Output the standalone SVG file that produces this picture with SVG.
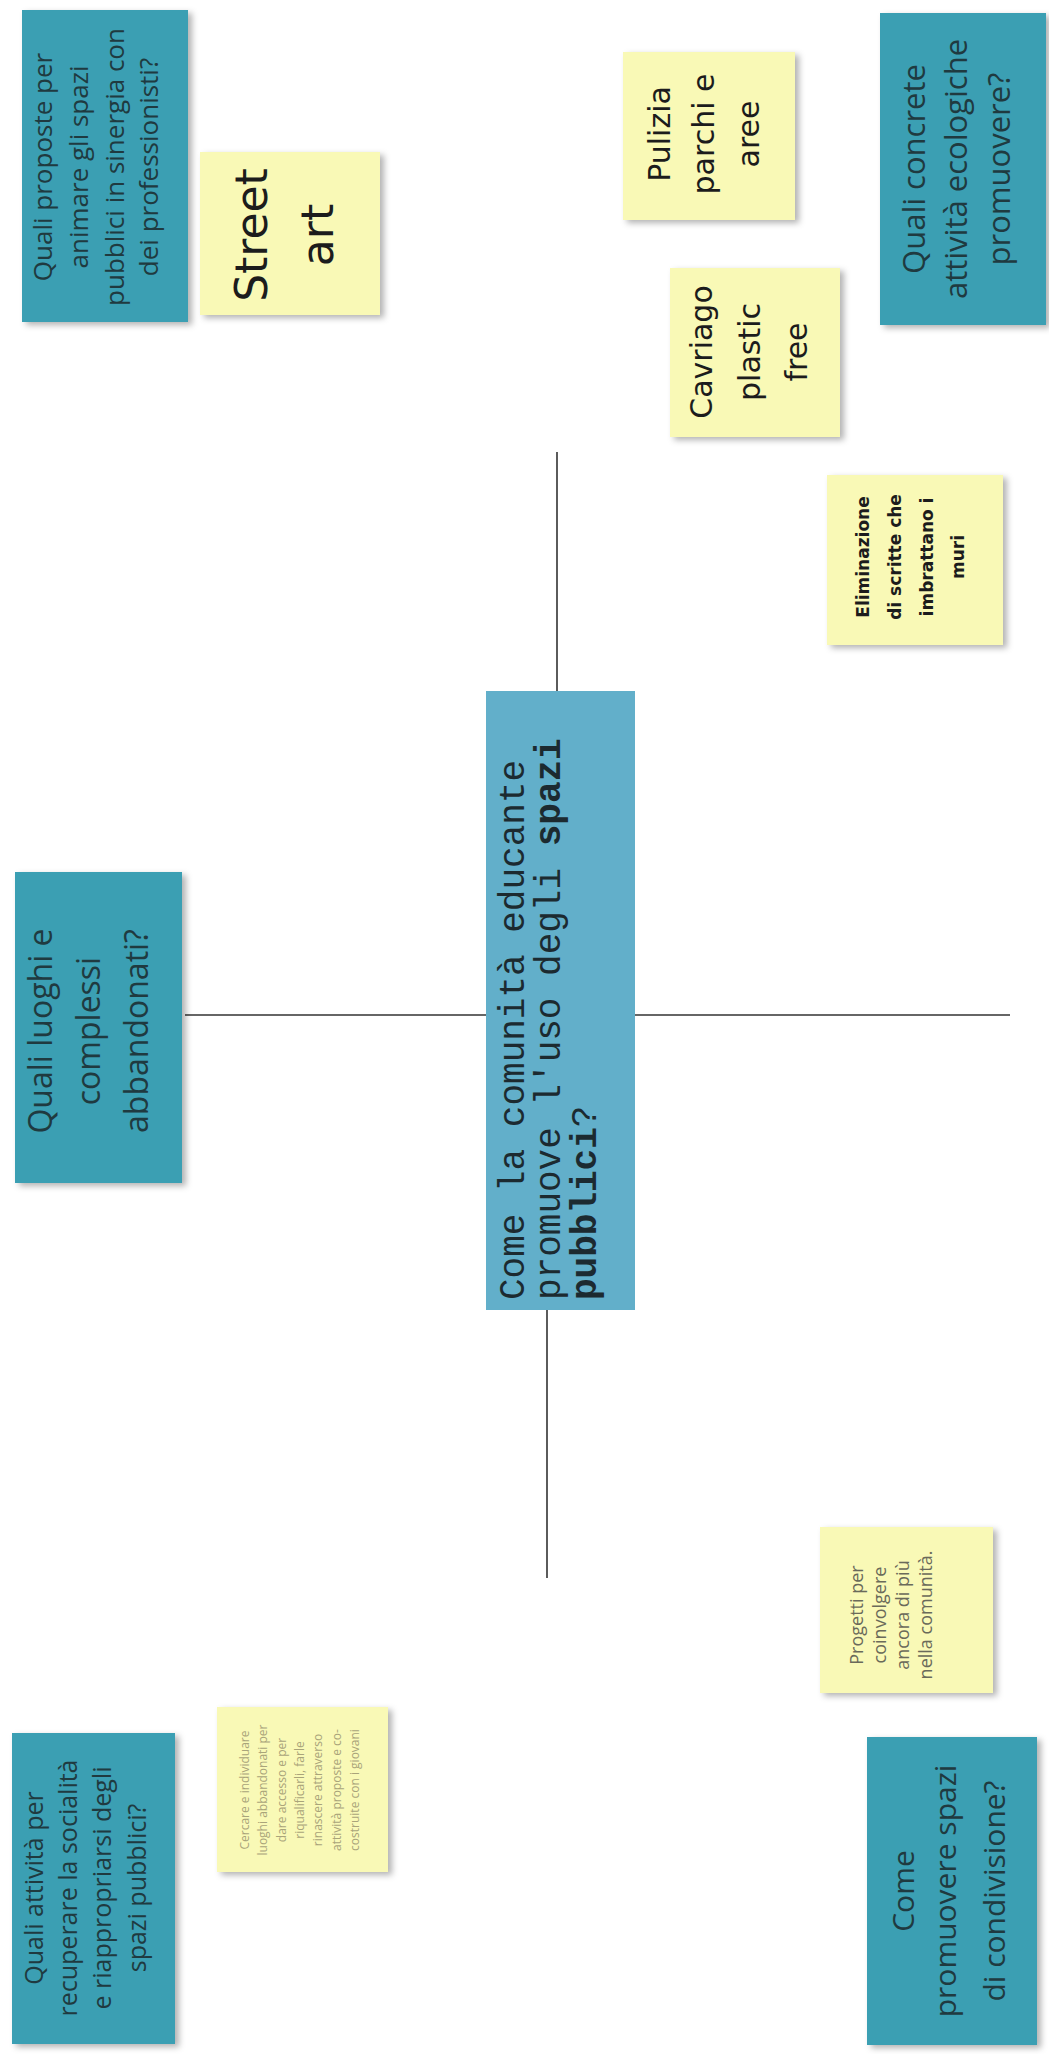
<svg xmlns="http://www.w3.org/2000/svg" width="1049" height="2054" viewBox="0 0 1049 2054">
<defs>
<filter id="sh" x="-10%" y="-10%" width="130%" height="130%"><feDropShadow dx="4" dy="3" stdDeviation="3" flood-color="#000" flood-opacity="0.3"/></filter>
<style>
.teal{fill:#3b9fb3;filter:url(#sh)}
.center{fill:#62afca}
.yel{fill:#f9f9b6;filter:url(#sh)}
.tq{font-family:"Open Sans","Liberation Sans",sans-serif;fill:#1f3a40;text-anchor:middle}
.ty{font-family:"DejaVu Sans","Liberation Sans",sans-serif;fill:#1c1c1c;text-anchor:middle}
.tm{font-family:"Liberation Mono","DejaVu Sans Mono",monospace;font-size:36px;fill:#1c2a30}
.ln{stroke:#333;stroke-width:1.6;fill:none}
</style>
</defs>
<rect width="1049" height="2054" fill="#ffffff"/>
<g id="connectors">
<line class="ln" x1="185" y1="1015" x2="486" y2="1015"/>
<line class="ln" x1="635" y1="1015" x2="1010" y2="1015"/>
<line class="ln" x1="557" y1="452" x2="557" y2="691"/>
<line class="ln" x1="547" y1="1310" x2="547" y2="1578"/>
</g>
<g id="n-proposte">
<rect class="teal" x="22" y="10" width="166" height="312"/>
<g transform="translate(105,167) rotate(-90)"><text class="tq" font-size="26"><tspan x="0" y="-53">Quali proposte per</tspan><tspan x="0" y="-17">animare gli spazi</tspan><tspan x="0" y="19">pubblici in sinergia con</tspan><tspan x="0" y="53">dei professionisti?</tspan></text></g>
</g>
<g id="n-street">
<rect class="yel" x="200" y="152" width="180" height="163"/>
<g transform="translate(290,235) rotate(-90)"><text class="ty" font-size="44"><tspan x="0" y="-23">Street</tspan><tspan x="0" y="43">art</tspan></text></g>
</g>
<g id="n-pulizia">
<rect class="yel" x="623" y="52" width="172" height="168"/>
<g transform="translate(709,134) rotate(-90)"><text class="ty" font-size="30"><tspan x="0" y="-39">Pulizia</tspan><tspan x="0" y="5">parchi e</tspan><tspan x="0" y="50">aree</tspan></text></g>
</g>
<g id="n-cavriago">
<rect class="yel" x="670" y="268" width="170" height="169"/>
<g transform="translate(755,352) rotate(-90)"><text class="ty" font-size="30"><tspan x="0" y="-43">Cavriago</tspan><tspan x="0" y="5">plastic</tspan><tspan x="0" y="52">free</tspan></text></g>
</g>
<g id="n-ecologiche">
<rect class="teal" x="880" y="13" width="166" height="312"/>
<g transform="translate(964,169) rotate(-90)"><text class="tq" font-size="31"><tspan x="0" y="-39">Quali concrete</tspan><tspan x="0" y="3">attività ecologiche</tspan><tspan x="0" y="46">promuovere?</tspan></text></g>
</g>
<g id="n-eliminazione">
<rect class="yel" x="827" y="475" width="176" height="170"/>
<g transform="translate(915,557) rotate(-90)"><text class="ty" font-size="17" font-weight="bold"><tspan x="0" y="-46">Eliminazione</tspan><tspan x="0" y="-14">di scritte che</tspan><tspan x="0" y="18">imbrattano i</tspan><tspan x="0" y="49">muri</tspan></text></g>
</g>
<g id="n-luoghi">
<rect class="teal" x="15" y="872" width="167" height="311"/>
<g transform="translate(98,1031) rotate(-90)"><text class="tq" font-size="32"><tspan x="0" y="-46">Quali luoghi e</tspan><tspan x="0" y="2">complessi</tspan><tspan x="0" y="50">abbandonati?</tspan></text></g>
</g>
<g id="n-centro">
<rect class="center" x="486" y="691" width="149" height="619"/>
<text class="tm" transform="translate(524,1300) rotate(-90)">Come la comunità educante</text>
<text class="tm" transform="translate(560,1300) rotate(-90)">promuove l'uso degli <tspan font-weight="bold">spazi</tspan></text>
<text class="tm" transform="translate(596,1300) rotate(-90)"><tspan font-weight="bold">pubblici</tspan>?</text>
</g>
<g id="n-socialita">
<rect class="teal" x="12" y="1733" width="163" height="311"/>
<g transform="translate(93,1888) rotate(-90)"><text class="tq" font-size="25"><tspan x="0" y="-50">Quali attività per</tspan><tspan x="0" y="-16">recuperare la socialità</tspan><tspan x="0" y="18">e riappropriarsi degli</tspan><tspan x="0" y="53">spazi pubblici?</tspan></text></g>
</g>
<g id="n-cercare">
<rect class="yel" x="217" y="1707" width="171" height="165"/>
<g transform="translate(302,1790) rotate(-90)"><text class="tq" font-size="12" style="fill:#a9a47a"><tspan x="0" y="-53">Cercare e individuare</tspan><tspan x="0" y="-35">luoghi abbandonati per</tspan><tspan x="0" y="-16">dare accesso e per</tspan><tspan x="0" y="2">riqualificarli, farle</tspan><tspan x="0" y="20">rinascere attraverso</tspan><tspan x="0" y="39">attività proposte e co-</tspan><tspan x="0" y="57">costruite con i giovani</tspan></text></g>
</g>
<g id="n-progetti">
<rect class="yel" x="820" y="1527" width="173" height="166"/>
<g transform="translate(906,1615) rotate(-90)"><text class="tq" font-size="18" style="fill:#6a6a5a"><tspan x="0" y="-43">Progetti per</tspan><tspan x="0" y="-20">coinvolgere</tspan><tspan x="0" y="3">ancora di più</tspan><tspan x="0" y="26">nella comunità.</tspan></text></g>
</g>
<g id="n-condivisione">
<rect class="teal" x="867" y="1737" width="170" height="308"/>
<g transform="translate(952,1891) rotate(-90)"><text class="tq" font-size="30"><tspan x="0" y="-38">Come</tspan><tspan x="0" y="4">promuovere spazi</tspan><tspan x="0" y="53">di condivisione?</tspan></text></g>
</g>
</svg>
